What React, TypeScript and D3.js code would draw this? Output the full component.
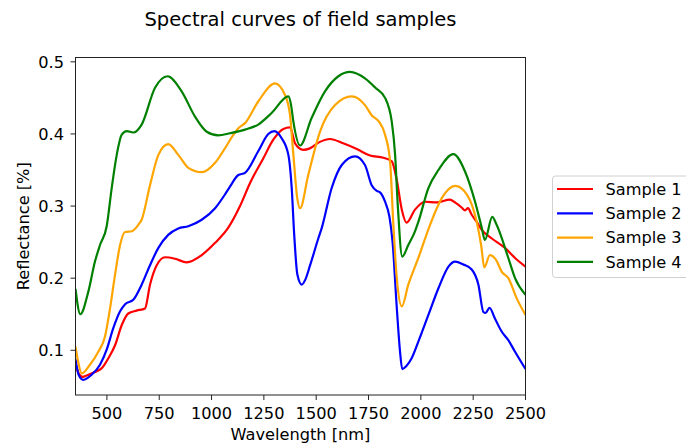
import React from "react";
import * as d3 from "d3";

const title = "Spectral curves of field samples";
const xLabel = "Wavelength [nm]";
const yLabel = "Reflectance [%]";
const xTicks = [500, 750, 1000, 1250, 1500, 1750, 2000, 2250, 2500];
const yTicks = [0.1, 0.2, 0.3, 0.4, 0.5];
const seriesNames = ["Sample 1", "Sample 2", "Sample 3", "Sample 4"];
const seriesColors = ["red", "blue", "orange", "green"];

const sample1Wl = [350, 365, 385, 403, 443, 475, 507, 539, 571, 602, 642, 682, 706, 738, 778, 825, 881, 953, 1017, 1080, 1136, 1184, 1247, 1295, 1343, 1375, 1399, 1438, 1470, 1518, 1566, 1629, 1694, 1757, 1821, 1861, 1885, 1909, 1932, 1972, 2020, 2076, 2139, 2163, 2195, 2211, 2225, 2243, 2267, 2291, 2339, 2402, 2450, 2500];
const sample1Refl = [0.082, 0.068, 0.063, 0.065, 0.07, 0.075, 0.089, 0.107, 0.135, 0.151, 0.155, 0.158, 0.191, 0.218, 0.229, 0.227, 0.222, 0.232, 0.249, 0.27, 0.3, 0.332, 0.366, 0.392, 0.407, 0.409, 0.387, 0.378, 0.38, 0.389, 0.393, 0.387, 0.379, 0.37, 0.367, 0.362, 0.336, 0.295, 0.277, 0.295, 0.306, 0.305, 0.309, 0.305, 0.298, 0.294, 0.297, 0.288, 0.278, 0.267, 0.255, 0.242, 0.228, 0.216];

const sample2Wl = [350, 365, 387, 427, 467, 499, 531, 563, 587, 626, 666, 706, 746, 793, 841, 889, 953, 1017, 1064, 1088, 1128, 1160, 1223, 1271, 1300, 1335, 1367, 1383, 1395, 1410, 1431, 1448, 1471, 1510, 1526, 1574, 1622, 1686, 1733, 1765, 1790, 1805, 1829, 1850, 1865, 1885, 1900, 1911, 1930, 1956, 1988, 2036, 2084, 2132, 2163, 2203, 2243, 2275, 2299, 2310, 2328, 2354, 2386, 2418, 2450, 2500];
const sample2Refl = [0.088, 0.066, 0.059, 0.066, 0.08, 0.101, 0.131, 0.154, 0.164, 0.17, 0.191, 0.218, 0.242, 0.26, 0.269, 0.272, 0.281, 0.297, 0.316, 0.327, 0.343, 0.346, 0.376, 0.4, 0.404, 0.394, 0.371, 0.325, 0.26, 0.205, 0.191, 0.198, 0.218, 0.255, 0.269, 0.325, 0.357, 0.369, 0.357, 0.329, 0.321, 0.319, 0.306, 0.285, 0.25, 0.159, 0.1, 0.074, 0.078, 0.089, 0.112, 0.149, 0.186, 0.216, 0.223, 0.219, 0.212, 0.191, 0.153, 0.152, 0.159, 0.144, 0.126, 0.114, 0.098, 0.074];

const sample3Wl = [350, 360, 380, 419, 459, 491, 515, 539, 563, 587, 619, 650, 666, 706, 746, 793, 841, 889, 953, 1017, 1064, 1100, 1128, 1160, 1223, 1303, 1351, 1375, 1391, 1410, 1423, 1462, 1518, 1590, 1670, 1733, 1765, 1800, 1829, 1853, 1868, 1885, 1909, 1940, 1988, 2044, 2100, 2164, 2220, 2267, 2288, 2303, 2330, 2360, 2386, 2418, 2458, 2500];
const sample3Refl = [0.105, 0.088, 0.068, 0.08, 0.098, 0.119, 0.158, 0.205, 0.246, 0.264, 0.265, 0.274, 0.281, 0.329, 0.371, 0.386, 0.371, 0.353, 0.347, 0.36, 0.38, 0.397, 0.408, 0.415, 0.445, 0.47, 0.454, 0.426, 0.371, 0.31, 0.297, 0.343, 0.403, 0.44, 0.452, 0.44, 0.426, 0.417, 0.399, 0.362, 0.278, 0.2, 0.161, 0.191, 0.228, 0.274, 0.311, 0.328, 0.316, 0.278, 0.246, 0.215, 0.232, 0.225, 0.209, 0.2, 0.172, 0.149];

const sample4Wl = [350, 373, 411, 443, 467, 499, 523, 547, 571, 595, 626, 666, 730, 790, 857, 921, 977, 1032, 1088, 1160, 1223, 1287, 1367, 1380, 1391, 1423, 1478, 1542, 1606, 1662, 1733, 1783, 1829, 1861, 1877, 1890, 1911, 1940, 1972, 1988, 2036, 2084, 2155, 2211, 2259, 2291, 2306, 2341, 2362, 2418, 2450, 2500];
const sample4Refl = [0.185, 0.15, 0.181, 0.223, 0.246, 0.272, 0.325, 0.371, 0.399, 0.404, 0.402, 0.413, 0.464, 0.48, 0.459, 0.424, 0.403, 0.398, 0.401, 0.406, 0.413, 0.429, 0.452, 0.44, 0.417, 0.384, 0.422, 0.459, 0.48, 0.486, 0.477, 0.464, 0.45, 0.417, 0.371, 0.3, 0.23, 0.246, 0.265, 0.278, 0.325, 0.35, 0.372, 0.348, 0.306, 0.27, 0.253, 0.285, 0.274, 0.228, 0.2, 0.177];

const seriesWl = [sample1Wl, sample2Wl, sample3Wl, sample4Wl];
const seriesRefl = [sample1Refl, sample2Refl, sample3Refl, sample4Refl];

const W = 686;
const H = 446;
const left = 75.5;
const right = 525.5;
const top = 57.5;
const bottom = 395;
const font = "'DejaVu Sans', sans-serif";
const fs = 16.2;

export default function App() {
  const x = d3.scaleLinear().domain([350, 2500]).range([left, right]);
  const y = d3.scaleLinear().domain([0.038, 0.506]).range([bottom, top]);
  const line = d3
    .line<[number, number]>()
    .x((d) => x(d[0]))
    .y((d) => y(d[1]))
    .curve(d3.curveMonotoneX);

  const legendX = 552.5;
  const legendY = 176;
  const rowH = 24.3;

  return (
    <svg
      width={W}
      height={H}
      style={{ position: "absolute", left: 0, top: 0, background: "white" }}
      fontFamily={font}
    >
      <defs>
        <clipPath id="plotclip">
          <rect x={left} y={top} width={right - left} height={bottom - top} />
        </clipPath>
      </defs>
      <rect x={0} y={0} width={W} height={H} fill="white" />
      <text x={(left + right) / 2} y={26} textAnchor="middle" fontSize={19.5} fill="#000">
        {title}
      </text>
      <g clipPath="url(#plotclip)">
        {seriesNames.map((name, i) => {
          const pts = seriesWl[i].map((w, j) => [w, seriesRefl[i][j]] as [number, number]);
          return (
            <path
              key={name}
              d={line(pts) || ""}
              fill="none"
              stroke={seriesColors[i]}
              strokeWidth={2.2}
              strokeLinejoin="round"
            />
          );
        })}
      </g>
      <rect
        x={left}
        y={top}
        width={right - left}
        height={bottom - top}
        fill="none"
        stroke="#222"
        strokeWidth={1}
      />
      {xTicks.map((t) => (
        <g key={t}>
          <line x1={x(t)} x2={x(t)} y1={bottom} y2={bottom + 5} stroke="#222" strokeWidth={1} />
          <text x={x(t)} y={419} textAnchor="middle" fontSize={fs} fill="#000">
            {t}
          </text>
        </g>
      ))}
      {yTicks.map((t) => (
        <g key={t}>
          <line x1={left - 5} x2={left} y1={y(t)} y2={y(t)} stroke="#222" strokeWidth={1} />
          <text x={64} y={y(t)} dy="0.36em" textAnchor="end" fontSize={fs} fill="#000">
            {t.toFixed(1)}
          </text>
        </g>
      ))}
      <text x={(left + right) / 2} y={440} textAnchor="middle" fontSize={fs} fill="#000">
        {xLabel}
      </text>
      <text
        transform={`translate(29, ${(top + bottom) / 2}) rotate(-90)`}
        textAnchor="middle"
        fontSize={fs}
        fill="#000"
      >
        {yLabel}
      </text>
      <rect
        x={legendX}
        y={legendY}
        width={140}
        height={101.5}
        rx={3}
        fill="white"
        stroke="#d0d0d0"
        strokeWidth={1}
      />
      {seriesNames.map((name, i) => {
        const cy = 189 + i * rowH;
        return (
          <g key={name}>
            <line x1={557} x2={593} y1={cy} y2={cy} stroke={seriesColors[i]} strokeWidth={2.2} />
            <text x={605.5} y={cy} dy="0.36em" fontSize={fs} fill="#000">
              {name}
            </text>
          </g>
        );
      })}
    </svg>
  );
}
